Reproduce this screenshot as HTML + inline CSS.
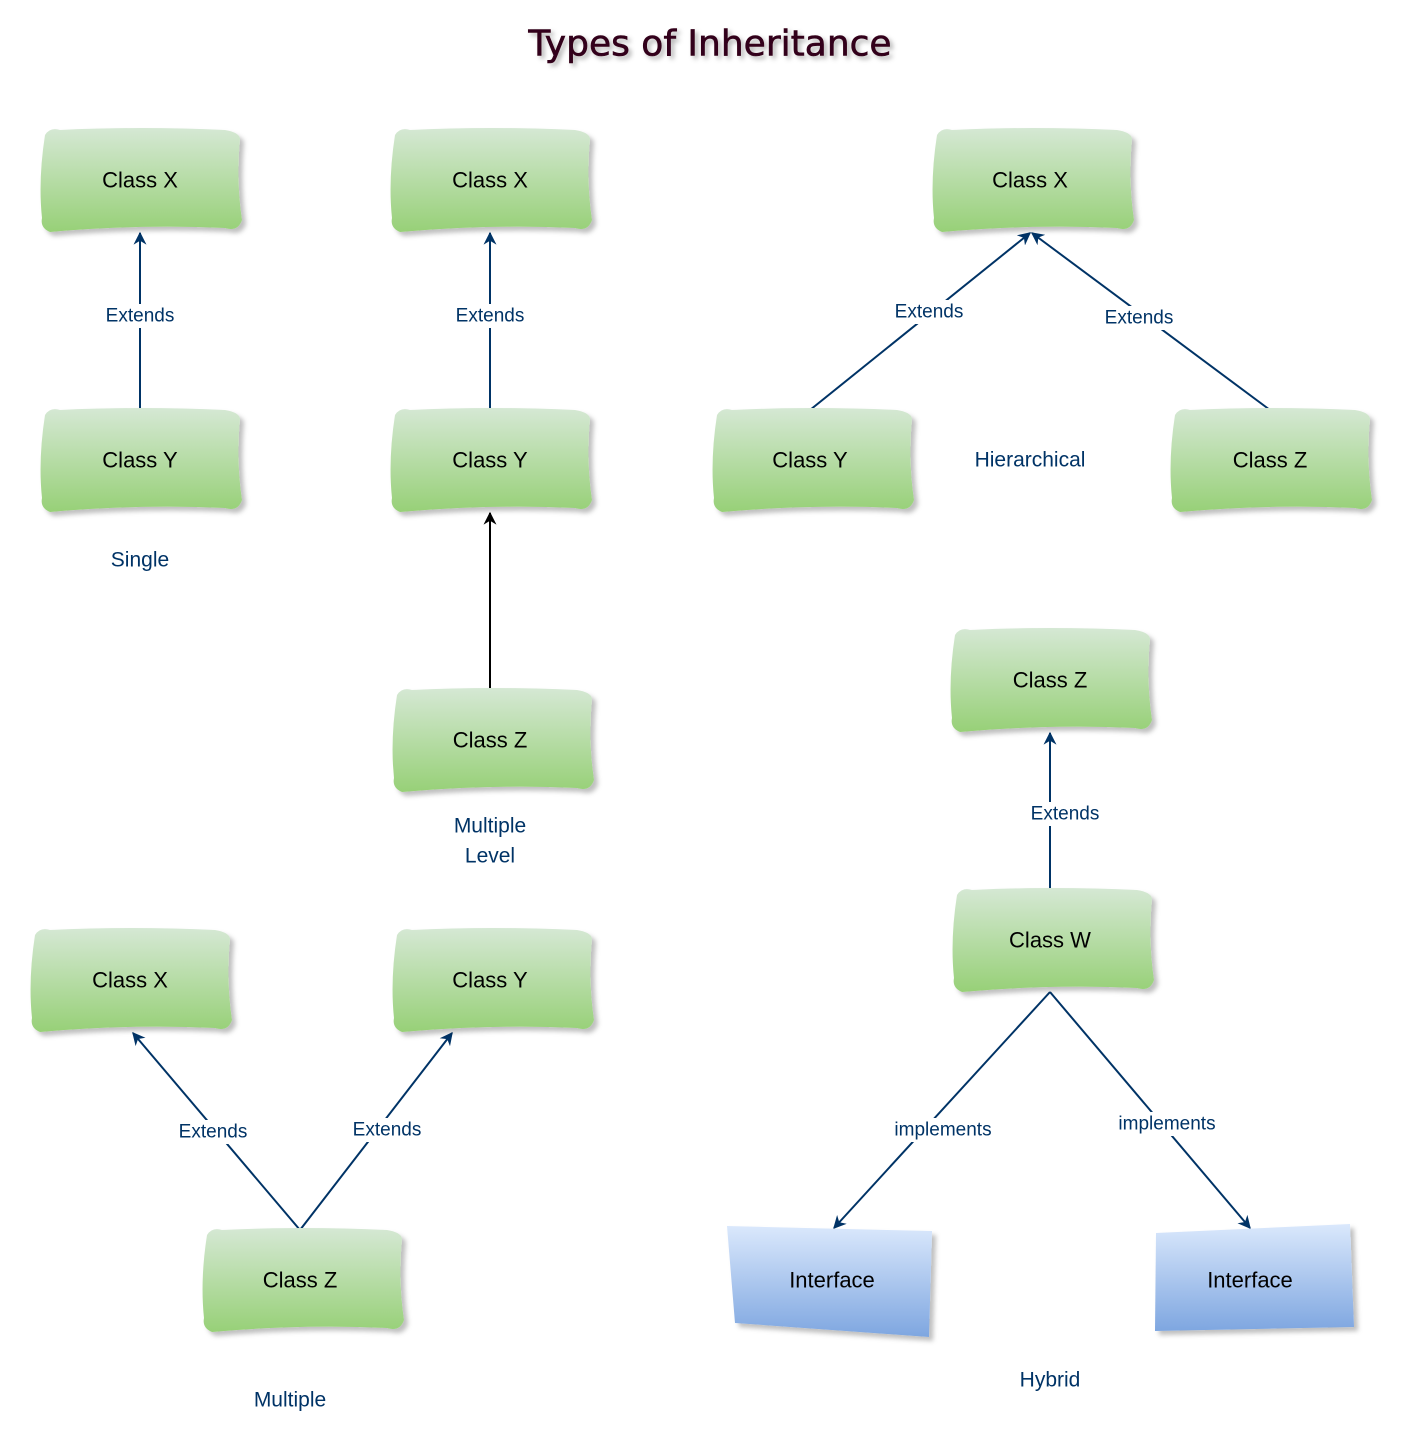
<!DOCTYPE html>
<html><head><meta charset="utf-8"><style>
html,body{margin:0;padding:0;background:#fff;}
svg{display:block;}
.n{font-family:"Liberation Sans",Arial,sans-serif;font-size:22px;fill:#000;text-anchor:middle;dominant-baseline:central;}
.l{font-family:"Liberation Sans",Arial,sans-serif;font-size:21px;fill:#003366;text-anchor:middle;dominant-baseline:central;}
.e{font-family:"Liberation Sans",Arial,sans-serif;font-size:19px;fill:#003366;text-anchor:middle;dominant-baseline:central;}
</style></head><body>
<svg width="1420" height="1430" viewBox="0 0 1420 1430" xmlns="http://www.w3.org/2000/svg">
<defs>
<linearGradient id="g" x1="0" y1="0" x2="0" y2="1"><stop offset="0" stop-color="#d5e8d4"/><stop offset="1" stop-color="#97d077"/></linearGradient>
<linearGradient id="b" x1="0" y1="0" x2="0" y2="1"><stop offset="0" stop-color="#dae8fc"/><stop offset="1" stop-color="#7ea6e0"/></linearGradient>
<filter id="s" x="-10%" y="-10%" width="130%" height="140%"><feDropShadow dx="4" dy="4" stdDeviation="2.5" flood-color="#000" flood-opacity="0.25"/></filter>
<filter id="ts" x="-10%" y="-30%" width="130%" height="170%"><feDropShadow dx="3" dy="3" stdDeviation="2.5" flood-color="#000" flood-opacity="0.3"/></filter>
<marker id="a" viewBox="0 0 10 10" refX="9" refY="5" markerWidth="13" markerHeight="13" orient="auto-start-reverse" markerUnits="userSpaceOnUse"><path d="M0,0 L10,5 L0,10 L3,5 z" fill="#003366"/></marker>
<marker id="ak" viewBox="0 0 10 10" refX="9" refY="5" markerWidth="13" markerHeight="13" orient="auto" markerUnits="userSpaceOnUse"><path d="M0,0 L10,5 L0,10 L3,5 z" fill="#000"/></marker>
<g id="node"><path d="M-95,-45 Q-90,-53 -80,-50 Q0,-54 85,-50 Q98,-48 100,-42 Q96,0 102,40 Q98,52 85,48 Q0,44 -90,52 Q-100,48 -98,38 Q-102,0 -95,-45 Z" fill="url(#g)" filter="url(#s)"/></g>
</defs>

<text x="710" y="44" text-anchor="middle" dominant-baseline="central" font-family="'Comic Sans MS','DejaVu Sans',sans-serif" font-size="36" fill="#33001a" stroke="#33001a" stroke-width="0.6" filter="url(#ts)">Types of Inheritance</text>

<g stroke="#003366" stroke-width="2" fill="none">
<line x1="140" y1="410" x2="140" y2="233" marker-end="url(#a)"/>
<line x1="490" y1="410" x2="490" y2="233" marker-end="url(#a)"/>
<line x1="810" y1="410" x2="1030" y2="233" marker-end="url(#a)"/>
<line x1="1270" y1="410" x2="1032" y2="233" marker-end="url(#a)"/>
<line x1="1050" y1="890" x2="1050" y2="733" marker-end="url(#a)"/>
<line x1="1050" y1="992" x2="834" y2="1228" marker-end="url(#a)"/>
<line x1="1050" y1="992" x2="1250" y2="1228" marker-end="url(#a)"/>
<line x1="300" y1="1230" x2="133" y2="1033" marker-end="url(#a)"/>
<line x1="300" y1="1230" x2="452" y2="1033" marker-end="url(#a)"/>
</g>
<line x1="490" y1="690" x2="490" y2="513" stroke="#000" stroke-width="2" marker-end="url(#ak)"/>

<g>
<rect x="98" y="304" width="84" height="24" fill="#fff"/><text class="e" x="140" y="316">Extends</text>
<rect x="448" y="304" width="84" height="24" fill="#fff"/><text class="e" x="490" y="316">Extends</text>
<rect x="887" y="300" width="84" height="24" fill="#fff"/><text class="e" x="929" y="312">Extends</text>
<rect x="1097" y="306" width="84" height="24" fill="#fff"/><text class="e" x="1139" y="318">Extends</text>
<rect x="1023" y="802" width="84" height="24" fill="#fff"/><text class="e" x="1065" y="814">Extends</text>
<rect x="884" y="1118" width="118" height="24" fill="#fff"/><text class="e" x="943" y="1130">implements</text>
<rect x="1108" y="1112" width="118" height="24" fill="#fff"/><text class="e" x="1167" y="1124">implements</text>
<rect x="171" y="1120" width="84" height="24" fill="#fff"/><text class="e" x="213" y="1132">Extends</text>
<rect x="345" y="1118" width="84" height="24" fill="#fff"/><text class="e" x="387" y="1130">Extends</text>
</g>

<use href="#node" x="140" y="180"/><text class="n" x="140" y="180">Class X</text>
<use href="#node" x="140" y="460"/><text class="n" x="140" y="460">Class Y</text>
<use href="#node" x="490" y="180"/><text class="n" x="490" y="180">Class X</text>
<use href="#node" x="490" y="460"/><text class="n" x="490" y="460">Class Y</text>
<use href="#node" x="492" y="740"/><text class="n" x="490" y="740">Class Z</text>
<use href="#node" x="1032" y="180"/><text class="n" x="1030" y="180">Class X</text>
<use href="#node" x="812" y="460"/><text class="n" x="810" y="460">Class Y</text>
<use href="#node" x="1270" y="460"/><text class="n" x="1270" y="460">Class Z</text>
<use href="#node" x="1050" y="680"/><text class="n" x="1050" y="680">Class Z</text>
<use href="#node" x="1052" y="940"/><text class="n" x="1050" y="940">Class W</text>
<use href="#node" x="130" y="980"/><text class="n" x="130" y="980">Class X</text>
<use href="#node" x="492" y="980"/><text class="n" x="490" y="980">Class Y</text>
<use href="#node" x="302" y="1280"/><text class="n" x="300" y="1280">Class Z</text>

<path d="M727,1226 L887,1230 L932,1231 L929,1337 L735,1323 Z" fill="url(#b)" filter="url(#s)"/>
<text class="n" x="832" y="1280">Interface</text>
<path d="M1156,1233 L1350,1224 L1354,1327 L1155,1331 Z" fill="url(#b)" filter="url(#s)"/>
<text class="n" x="1250" y="1280">Interface</text>

<text class="l" x="140" y="560">Single</text>
<text class="l" x="490" y="826">Multiple</text>
<text class="l" x="490" y="856">Level</text>
<text class="l" x="1030" y="460">Hierarchical</text>
<text class="l" x="1050" y="1380">Hybrid</text>
<text class="l" x="290" y="1400">Multiple</text>
</svg>
</body></html>
